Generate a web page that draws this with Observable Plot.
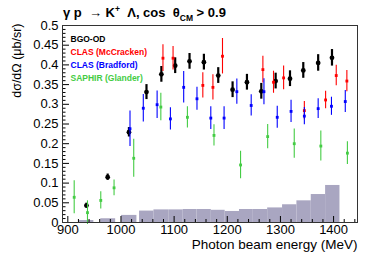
<!DOCTYPE html>
<html>
<head>
<meta charset="utf-8">
<script src="https://cdn.jsdelivr.net/npm/d3@7"></script>
<script src="https://cdn.jsdelivr.net/npm/@observablehq/plot@0.6"></script>
<style>
  html, body { margin: 0; padding: 0; background: #fff; }
  #chart { position: relative; width: 382px; height: 257px; }
</style>
</head>
<body>
<div id="chart"></div>
<script>
// BGO-OD
const bgoE = [935, 975, 1015, 1048, 1076, 1102, 1129, 1156, 1183, 1210, 1237, 1264, 1291, 1318, 1343, 1371, 1397];
const bgoV = [0.043, 0.115, 0.229, 0.331, 0.376, 0.398, 0.409, 0.407, 0.373, 0.337, 0.356, 0.333, 0.359, 0.365, 0.386, 0.405, 0.418];
const bgoErr = [0.006, 0.008, 0.012, 0.019, 0.020, 0.020, 0.020, 0.020, 0.020, 0.020, 0.020, 0.020, 0.020, 0.020, 0.020, 0.021, 0.021];
// CLAS (McCracken)
const mccE = [1079, 1098, 1154, 1173, 1191, 1267, 1287, 1306, 1345, 1385, 1405, 1425];
const mccV = [0.417, 0.417, 0.348, 0.343, 0.422, 0.388, 0.356, 0.367, 0.284, 0.311, 0.373, 0.359];
const mccErr = [0.034, 0.030, 0.032, 0.032, 0.045, 0.034, 0.028, 0.030, 0.023, 0.022, 0.026, 0.027];
// CLAS (Bradford)
const bradE = [1017, 1042, 1068, 1093, 1118, 1143, 1169, 1194, 1218, 1245, 1269, 1294, 1320, 1345, 1371, 1396, 1422];
const bradV = [0.238, 0.290, 0.299, 0.263, 0.343, 0.314, 0.265, 0.265, 0.332, 0.297, 0.332, 0.267, 0.282, 0.270, 0.289, 0.295, 0.307];
const bradErr = [0.045, 0.035, 0.035, 0.028, 0.040, 0.029, 0.029, 0.029, 0.032, 0.027, 0.033, 0.028, 0.028, 0.022, 0.025, 0.023, 0.028];
// SAPHIR (Glander)
const sapE = [912, 937, 962, 987, 1024, 1075, 1125, 1175, 1225, 1276, 1326, 1376, 1426];
const sapV = [0.064, 0.025, 0.056, 0.088, 0.163, 0.293, 0.267, 0.221, 0.146, 0.218, 0.200, 0.194, 0.176];
const sapErr = [0.042, 0.030, 0.022, 0.020, 0.048, 0.035, 0.027, 0.027, 0.035, 0.031, 0.037, 0.038, 0.029];
// systematic error histogram
const sysLo = [922, 962, 1001, 1035, 1062, 1090, 1117, 1143, 1170, 1196, 1223, 1249, 1276, 1304, 1331, 1358, 1385];
const sysHi = [949, 990, 1030, 1062, 1090, 1117, 1143, 1170, 1196, 1223, 1249, 1276, 1304, 1331, 1358, 1385, 1412];
const sysV = [0.005, 0.0095, 0.018, 0.029, 0.032, 0.032, 0.033, 0.033, 0.031, 0.028, 0.033, 0.033, 0.037, 0.045, 0.055, 0.071, 0.094];

const legendNames = ["BGO-OD", "CLAS (McCracken)", "CLAS (Bradford)", "SAPHIR (Glander)"];
const legendColors = ["#000000", "#ff0000", "#0000ff", "#44cc44"];

const xMajor = [900, 1000, 1100, 1200, 1300, 1400];
const xMinor = d3.range(900, 1441, 20).filter(v => v % 100 !== 0);
const yMajor = d3.range(0, 0.5001, 0.05).map(v => +v.toFixed(2));
const yMinor = d3.range(0, 0.5001, 0.01).map(v => +v.toFixed(2)).filter(v => Math.round(v * 100) % 5 !== 0);
const yLabels = ["0", "0.05", "0.1", "0.15", "0.2", "0.25", "0.3", "0.35", "0.4", "0.45", "0.5"];

const toRows = (E, V, Err) => E.map((e, i) => ({e, v: V[i], err: Err[i]}));
const bgo = toRows(bgoE, bgoV, bgoErr);
const mcc = toRows(mccE, mccV, mccErr);
const brad = toRows(bradE, bradV, bradErr);
const sap = toRows(sapE, sapV, sapErr);
const sys = sysLo.map((lo, i) => ({lo, hi: sysHi[i], v: sysV[i]}));

function series(rows, color, w, r, symbol) {
  return [
    Plot.ruleX(rows, {x: "e", y1: d => d.v - d.err, y2: d => d.v + d.err, stroke: color, strokeWidth: w}),
    Plot.dot(rows, {x: "e", y: "v", fill: color, stroke: "none", r, symbol})
  ];
}

const W = 382, H = 257, ML = 62, MR = 25, MT = 25, MB = 35;
const frameW = W - ML - MR, frameH = H - MT - MB;

const plot = Plot.plot({
  width: W,
  height: H,
  marginLeft: ML,
  marginRight: MR,
  marginTop: MT,
  marginBottom: MB,
  style: {fontFamily: "'Liberation Sans', Arial, sans-serif", fontSize: "13px", background: "#fff", color: "#000"},
  x: {domain: [890, 1445]},
  y: {domain: [0, 0.5]},
  marks: [
    Plot.rectY(sys, {x1: "lo", x2: "hi", y1: 0, y2: "v", fill: "#a9a6c1"}),
    ...series(bgo, "#000000", 2.2, 2.4, "circle"),
    ...series(mcc, "#ff0000", 1.1, 1.6, "square"),
    ...series(brad, "#0000ff", 1.1, 1.6, "square"),
    ...series(sap, "#44cc44", 1.1, 1.6, "square"),
    // axis tick labels
    Plot.axisX({ticks: xMajor, tickSize: 0, tickPadding: 2, label: null, tickFormat: d => String(d), fontSize: 13}),
    Plot.axisY({ticks: yMajor, tickSize: 0, tickPadding: 4, label: null, tickFormat: d => yLabels[Math.round(d / 0.05)], fontSize: 13}),
    // inward tick marks
    Plot.tickX(xMajor, {x: d => d, insetTop: frameH - 6, stroke: "#000"}),
    Plot.tickX(xMinor, {x: d => d, insetTop: frameH - 3, stroke: "#000"}),
    Plot.tickY(yMajor, {y: d => d, insetRight: frameW - 7, stroke: "#000"}),
    Plot.tickY(yMinor, {y: d => d, insetRight: frameW - 3.5, stroke: "#000"}),
    Plot.frame({stroke: "#333", strokeWidth: 1}),
    // axis titles
    Plot.text(["Photon beam energy (MeV)"], {frameAnchor: "bottom-right", textAnchor: "end", dy: 26.5, fontSize: 13.5, fill: "#000"}),
    Plot.text(["dσ/dΩ (μb/sr)"], {frameAnchor: "top-left", rotate: -90, textAnchor: "end", dx: -50, dy: -2, fontSize: 12.5, fill: "#000"}),
    // legend
    ...legendNames.map((name, i) => Plot.text([name], {frameAnchor: "top-left", textAnchor: "start", dx: 8, dy: 10 + i * 13.2, fontSize: 8.5, fontWeight: "bold", fill: legendColors[i]}))
  ]
});

document.getElementById("chart").appendChild(plot);

// Title with super/subscripts
const svg = d3.select(plot);
const title = svg.append("text")
  .attr("x", 63).attr("y", 17)
  .attr("text-anchor", "start")
  .attr("font-family", "'Liberation Sans', Arial, sans-serif")
  .attr("font-size", 13).attr("font-weight", "bold")
  .attr("fill", "#000")
  .attr("xml:space", "preserve")
  .style("white-space", "pre");
title.append("tspan").text("γ p  → K");
title.append("tspan").attr("dy", -5).attr("font-size", 8.5).text("+");
title.append("tspan").attr("dy", 5).text("  Λ, cos  θ");
title.append("tspan").attr("dy", 4).attr("font-size", 8.5).text("CM");
title.append("tspan").attr("dy", -4).text(" > 0.9");
</script>
</body>
</html>
